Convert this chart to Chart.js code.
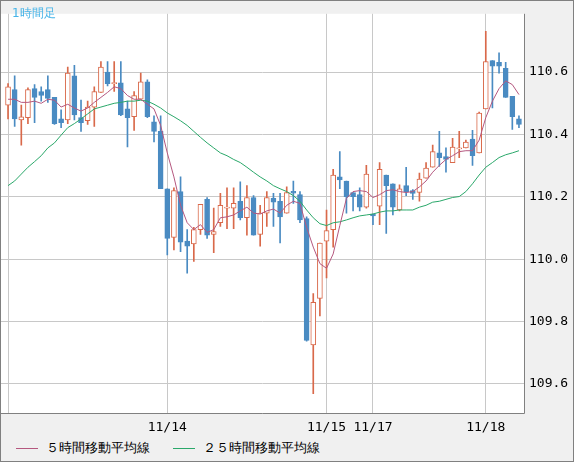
<!DOCTYPE html>
<html>
<head>
<meta charset="utf-8">
<script src="https://cdn.jsdelivr.net/npm/chart.js@4"></script>
<style>
  html, body { margin: 0; padding: 0; background: #f0f0f0; }
  #wrap { position: relative; width: 574px; height: 462px; box-sizing: border-box; border: 1px solid #808080; background: #f0f0f0; }
  #c { display: block; }
  #title { position: absolute; left: 11px; top: 4px; color: #46b4e8; font: 12px "DejaVu Sans", sans-serif; }
  #legend { position: absolute; left: 0; top: 439px; font: 13px "DejaVu Sans", sans-serif; color: #000; }
  .item { position: absolute; white-space: nowrap; line-height: 16px; }
  .item i { position: absolute; top: 8px; width: 22px; height: 1px; }
</style>
</head>
<body>
<div id="wrap">
  <canvas id="c" width="572" height="436"></canvas>
  <div id="title">1時間足</div>
  <div id="legend"></div>
</div>
<script>
// ローソク足 (open, high, low, close)
const opens  = [110.494,110.544,110.447,110.454,110.547,110.538,110.544,110.519,110.450,110.447,110.588,110.454,110.444,110.488,110.535,110.600,110.563,110.566,110.482,110.457,110.513,110.569,110.441,110.410,110.226,110.070,110.217,110.058,110.049,110.095,110.192,110.080,110.117,110.164,110.164,110.186,110.133,110.198,110.080,110.148,110.195,110.186,110.148,110.218,110.207,110.130,109.725,109.874,110.058,110.095,110.264,110.251,110.214,110.207,110.167,110.145,110.170,110.270,110.242,110.158,110.236,110.220,110.214,110.260,110.295,110.341,110.329,110.310,110.354,110.357,110.385,110.341,110.482,110.637,110.631,110.612,110.522,110.450];
const highs  = [110.563,110.588,110.494,110.550,110.560,110.553,110.588,110.519,110.479,110.616,110.622,110.510,110.507,110.553,110.634,110.634,110.634,110.634,110.507,110.538,110.597,110.575,110.460,110.460,110.226,110.229,110.264,110.095,110.102,110.176,110.198,110.164,110.211,110.229,110.229,110.248,110.236,110.204,110.173,110.217,110.211,110.211,110.232,110.251,110.217,110.136,109.890,110.052,110.158,110.288,110.345,110.251,110.214,110.229,110.301,110.145,110.310,110.270,110.242,110.239,110.295,110.223,110.276,110.310,110.366,110.410,110.357,110.388,110.410,110.382,110.413,110.472,110.731,110.637,110.662,110.631,110.522,110.460];
const lows   = [110.450,110.426,110.366,110.435,110.438,110.507,110.503,110.432,110.422,110.435,110.447,110.410,110.432,110.426,110.535,110.556,110.538,110.460,110.360,110.413,110.513,110.454,110.376,110.226,110.014,110.030,110.024,109.955,109.993,110.080,110.067,110.021,110.105,110.098,110.098,110.126,110.077,110.077,110.042,110.105,110.105,110.052,110.148,110.179,110.117,109.737,109.569,109.818,109.940,110.039,110.226,110.148,110.155,110.155,110.164,110.111,110.111,110.083,110.142,110.155,110.204,110.192,110.186,110.260,110.295,110.298,110.279,110.310,110.326,110.357,110.301,110.341,110.482,110.485,110.597,110.519,110.416,110.422];
const closes = [110.553,110.450,110.457,110.544,110.519,110.525,110.516,110.435,110.438,110.597,110.463,110.438,110.488,110.538,110.616,110.563,110.566,110.463,110.454,110.525,110.569,110.457,110.410,110.226,110.067,110.220,110.055,110.042,110.095,110.176,110.077,110.089,110.173,110.167,110.179,110.133,110.198,110.077,110.148,110.198,110.183,110.136,110.214,110.212,110.126,109.740,109.862,110.052,110.092,110.270,110.254,110.201,110.201,110.167,110.273,110.139,110.288,110.236,110.167,110.226,110.217,110.211,110.257,110.292,110.345,110.326,110.320,110.360,110.357,110.376,110.332,110.469,110.634,110.619,110.619,110.519,110.457,110.432];

// 移動平均線
const ma5  = [110.513,110.513,110.503,110.503,110.507,110.500,110.513,110.510,110.488,110.497,110.485,110.475,110.485,110.503,110.519,110.535,110.553,110.547,110.525,110.513,110.513,110.497,110.482,110.429,110.341,110.264,110.173,110.117,110.095,110.111,110.086,110.095,110.133,110.136,110.142,110.155,110.167,110.148,110.145,110.155,110.161,110.148,110.173,110.186,110.179,110.102,110.039,109.986,109.971,110.017,110.108,110.195,110.217,110.220,110.217,110.198,110.207,110.220,110.223,110.217,110.214,110.217,110.232,110.251,110.279,110.301,110.320,110.332,110.345,110.348,110.348,110.382,110.454,110.507,110.547,110.572,110.560,110.528];
const ma25 = [110.236,110.251,110.273,110.295,110.313,110.332,110.357,110.373,110.398,110.422,110.435,110.450,110.466,110.482,110.488,110.494,110.500,110.503,110.507,110.507,110.510,110.507,110.497,110.485,110.469,110.457,110.444,110.429,110.410,110.391,110.373,110.357,110.341,110.332,110.320,110.310,110.295,110.279,110.264,110.251,110.236,110.226,110.217,110.204,110.186,110.158,110.133,110.114,110.108,110.117,110.120,110.126,110.133,110.139,110.142,110.145,110.151,110.155,110.155,110.158,110.158,110.158,110.167,110.173,110.183,110.186,110.192,110.198,110.201,110.217,110.242,110.270,110.295,110.310,110.326,110.335,110.341,110.348];

// x軸の目盛り (ローソク足の番号 → 日付)
const tickIdx = [0, 24, 48, 55, 72];
const tickLabels = ['', '11/14', '11/15', '11/17', '11/18'];
const yTicks = [109.6, 109.8, 110.0, 110.2, 110.4, 110.6];

const UP = '#d9694a', DOWN = '#4a8bc2';
const MA5_COLOR = '#b5587f', MA25_COLOR = '#2aa86a';
const up = opens.map((o, i) => closes[i] >= o);

const wickData = opens.map((o, i) => ({ x: i, y: [lows[i], highs[i]] }));
const bodyData = opens.map((o, i) => ({ x: i, y: [o, closes[i]] }));

const mono = { family: '"DejaVu Sans Mono", monospace', size: 13 };

const plotBg = {
  id: 'plotBg',
  beforeDraw(chart) {
    const { ctx, chartArea: a } = chart;
    ctx.save();
    ctx.fillStyle = '#fff';
    ctx.fillRect(a.left, a.top, a.right - a.left, a.bottom - a.top);
    ctx.restore();
  },
  afterDatasetsDraw(chart) {
    const { ctx, chartArea: a } = chart;
    ctx.save();
    ctx.strokeStyle = '#808080';
    ctx.lineWidth = 1;
    ctx.beginPath();
    ctx.moveTo(a.right + 0.5, a.top);
    ctx.lineTo(a.right + 0.5, a.bottom + 0.5);
    ctx.lineTo(a.left, a.bottom + 0.5);
    ctx.stroke();
    ctx.restore();
  }
};

const chart = new Chart(document.getElementById('c'), {
  data: {
    datasets: [
      { type: 'line', label: '５時間移動平均線', data: ma5.map((v, i) => ({ x: i, y: v })),
        borderColor: MA5_COLOR, borderWidth: 1, pointRadius: 0, order: 0 },
      { type: 'line', label: '２５時間移動平均線', data: ma25.map((v, i) => ({ x: i, y: v })),
        borderColor: MA25_COLOR, borderWidth: 1, pointRadius: 0, order: 0 },
      { type: 'bar', label: 'body', data: bodyData, grouped: false, barThickness: 5, minBarLength: 1,
        backgroundColor: up.map(u => u ? '#fff' : DOWN), borderColor: up.map(u => u ? UP : DOWN),
        borderWidth: 1, borderSkipped: false, order: 1 },
      { type: 'bar', label: 'wick', data: wickData, grouped: false, barThickness: 1,
        backgroundColor: up.map(u => u ? UP : DOWN), borderWidth: 0, order: 2 }
    ]
  },
  options: {
    responsive: false,
    animation: false,
    layout: { padding: 0 },
    scales: {
      x: {
        type: 'linear', min: -1.06, max: 77.76, offset: false,
        afterBuildTicks: s => { s.ticks = tickIdx.map(v => ({ value: v })); },
        afterFit: s => { s.height = 24; },
        ticks: { callback: (v) => tickLabels[tickIdx.indexOf(v)], color: '#000', font: mono, maxRotation: 0, padding: 7, autoSkip: false },
        grid: { color: '#c8c8c8', drawTicks: false, offset: false },
        border: { display: false }
      },
      y: {
        position: 'right', min: 109.507, max: 110.787,
        afterBuildTicks: s => { s.ticks = yTicks.map(v => ({ value: v })); },
        afterFit: s => { s.width = 49; },
        ticks: { callback: v => v.toFixed(1), color: '#000', font: mono, padding: 5 },
        grid: { color: '#c8c8c8', drawTicks: false },
        border: { display: false }
      }
    },
    plugins: { legend: { display: false }, tooltip: { enabled: false } }
  },
  plugins: [plotBg]
});

// 凡例
const legendEl = document.getElementById('legend');
[[15, 0], [172, 1]].forEach(([left, di]) => {
  const ds = chart.data.datasets[di];
  const item = document.createElement('div');
  item.className = 'item';
  item.style.left = left + 'px';
  item.innerHTML = `<i style="left:0;background:${ds.borderColor}"></i><span style="margin-left:30px">${ds.label}</span>`;
  legendEl.appendChild(item);
});
</script>
</body>
</html>
